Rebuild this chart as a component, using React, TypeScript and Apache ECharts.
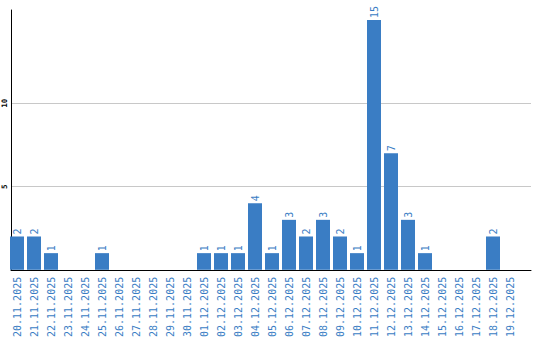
import React, { useEffect, useRef } from "react";
import * as echarts from "echarts";

const categories = [
  "20.11.2025", "21.11.2025", "22.11.2025", "23.11.2025", "24.11.2025",
  "25.11.2025", "26.11.2025", "27.11.2025", "28.11.2025", "29.11.2025",
  "30.11.2025", "01.12.2025", "02.12.2025", "03.12.2025", "04.12.2025",
  "05.12.2025", "06.12.2025", "07.12.2025", "08.12.2025", "09.12.2025",
  "10.12.2025", "11.12.2025", "12.12.2025", "13.12.2025", "14.12.2025",
  "15.12.2025", "16.12.2025", "17.12.2025", "18.12.2025", "19.12.2025",
];
const values = [
  2, 2, 1, 0, 0, 1, 0, 0, 0, 0,
  0, 1, 1, 1, 4, 1, 3, 2, 3, 2,
  1, 15, 7, 3, 1, 0, 0, 0, 2, 0,
];
const yTickLabels = [5, 10];
const yStep = 5;
const yMax = 15.6;

const BLUE = "#3a7dc4";
const GRID_COLOR = "#c8c8c8";

export default function App() {
  const ref = useRef<HTMLDivElement>(null);
  useEffect(() => {
    if (!ref.current) return;
    const chart = echarts.init(ref.current, null, { renderer: "svg" });
    const ticks: number[] = [];
    for (let v = 0; v <= yMax; v += yStep) ticks.push(v);
    if (ticks[ticks.length - 1] < yMax) ticks.push(yMax);
    const splitColors = ticks.map((t) =>
      yTickLabels.includes(t) ? GRID_COLOR : "rgba(0,0,0,0)"
    );
    chart.setOption({
      animation: false,
      grid: [
        { left: 8.5, top: 10, width: 510, bottom: 70, containLabel: false },
        { left: 10, top: 10, right: 9, bottom: 70, containLabel: false },
      ],
      xAxis: [
        {
          type: "category",
          gridIndex: 0,
          data: categories,
          boundaryGap: true,
          axisLine: { show: false },
          axisTick: { show: false },
          splitLine: { show: false },
          axisLabel: {
            rotate: 90,
            interval: 0,
            margin: 7,
            color: BLUE,
            fontFamily: "DejaVu Sans Mono",
            fontSize: 10,
          },
        },
        {
          type: "value",
          gridIndex: 1,
          min: 0,
          max: 1,
          axisLine: { show: true, onZero: false, lineStyle: { color: "#000", width: 1 } },
          axisTick: { show: false },
          axisLabel: { show: false },
          splitLine: { show: false },
        },
      ],
      yAxis: [
        {
          type: "value",
          gridIndex: 0,
          min: 0,
          max: yMax,
          show: false,
          splitLine: { show: false },
        },
        {
          type: "value",
          gridIndex: 1,
          min: 0,
          max: yMax,
          interval: yStep,
          axisLine: { show: true, onZero: false, lineStyle: { color: "#000", width: 1 } },
          axisTick: { show: false },
          splitLine: { show: true, lineStyle: { color: splitColors, width: 1 } },
          axisLabel: {
            rotate: 90,
            margin: 3,
            color: "#000",
            fontWeight: "bold",
            fontFamily: "DejaVu Sans Mono",
            fontSize: 7.5,
            formatter: (v: number) => (yTickLabels.includes(v) ? String(v) : ""),
          },
        },
      ],
      series: [
        {
          type: "bar",
          xAxisIndex: 0,
          yAxisIndex: 0,
          data: values,
          barWidth: 14,
          itemStyle: { color: BLUE },
          z: 5,
          label: {
            show: true,
            position: "top",
            rotate: 90,
            align: "left",
            verticalAlign: "middle",
            distance: 2,
            color: BLUE,
            fontFamily: "DejaVu Sans Mono",
            fontSize: 10,
            formatter: (p: any) => (p.value ? String(p.value) : ""),
          },
        },
      ],
    });
    return () => chart.dispose();
  }, []);
  return (
    <div
      ref={ref}
      style={{ position: "absolute", left: 0, top: 0, width: 540, height: 340, background: "#fff" }}
    />
  );
}
